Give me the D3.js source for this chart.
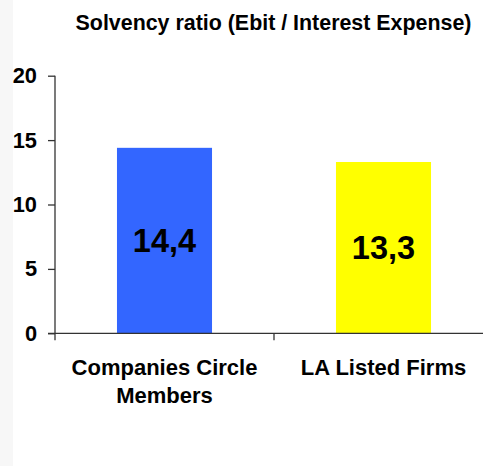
<!DOCTYPE html>
<html>
<head>
<meta charset="utf-8">
<script src="https://cdn.jsdelivr.net/npm/d3@7"></script>
<style>
  html, body { margin: 0; padding: 0; background: #ffffff; }
  svg { display: block; }
  text { font-family: "Liberation Sans", Arial, sans-serif; font-weight: bold; fill: #000; }
</style>
</head>
<body>
<script>
const titleText = "Solvency ratio (Ebit / Interest Expense)";
const categories = ["Companies Circle Members", "LA Listed Firms"];
const categoryLines = [["Companies Circle", "Members"], ["LA Listed Firms"]];
const values = [14.4, 13.3];
const valueLabels = ["14,4", "13,3"];
const barColors = ["#3366FF", "#FFFF00"];
const yTicks = [0, 5, 10, 15, 20];

const W = 483, H = 466;
const svg = d3.select("body").append("svg").attr("width", W).attr("height", H);

// left grey strip
svg.append("rect").attr("x", 0).attr("y", 0).attr("width", 13).attr("height", H).attr("fill", "#f7f7f7");

const x0 = 55, x1 = 493, yBottom = 333.3, yTop = 75.7;
const y = d3.scaleLinear().domain([0, 20]).range([yBottom, yTop]);
const x = d3.scaleBand().domain(categories).range([x0, x1]).paddingInner(0.566).paddingOuter(0.283);

// title
svg.append("text").attr("x", 273.5).attr("y", 29.5).attr("text-anchor", "middle")
  .style("font-size", "21.4px").text(titleText);

// bars
svg.selectAll("rect.bar").data(values).enter().append("rect")
  .attr("class", "bar")
  .attr("x", (d, i) => x(categories[i]))
  .attr("y", d => y(d))
  .attr("width", x.bandwidth())
  .attr("height", d => y(0) - y(d))
  .attr("fill", (d, i) => barColors[i]);

// value labels
svg.selectAll("text.val").data(values).enter().append("text")
  .attr("class", "val")
  .attr("x", (d, i) => x(categories[i]) + x.bandwidth() / 2)
  .attr("y", d => (y(d) + y(0)) / 2)
  .attr("dy", "0.36em")
  .attr("text-anchor", "middle")
  .style("font-size", "32.5px")
  .text((d, i) => valueLabels[i]);

// y axis
const axisColor = "#333";
const yAxis = d3.axisLeft(y).tickValues(yTicks).tickSize(7).tickPadding(11).tickFormat(d3.format("d"));
const gy = svg.append("g").attr("transform", `translate(${x0},0)`).call(yAxis);
gy.select(".domain").attr("stroke", axisColor).attr("stroke-width", 1.3).attr("d", `M0,${yTop}V${yBottom}`);
gy.selectAll(".tick line").attr("stroke", axisColor).attr("stroke-width", 1.3);
gy.selectAll(".tick text").style("font-size", "21.8px").style("font-family", "'Liberation Sans', Arial, sans-serif").style("font-weight", "bold").attr("fill", "#000");

// x axis
const gx = svg.append("g");
gx.append("line").attr("x1", x0 - 7).attr("x2", W).attr("y1", yBottom).attr("y2", yBottom)
  .attr("stroke", axisColor).attr("stroke-width", 1.3);
const boundaries = [x0].concat(categories.slice(1).map(c => x(c) - x.step() * x.paddingInner() / 2));
gx.selectAll("line.xt").data(boundaries).enter().append("line")
  .attr("class", "xt")
  .attr("x1", d => d).attr("x2", d => d)
  .attr("y1", yBottom).attr("y2", yBottom + 7)
  .attr("stroke", axisColor).attr("stroke-width", 1.3);

// category labels
categories.forEach((c, i) => {
  const t = svg.append("text").attr("text-anchor", "middle")
    .attr("x", x(c) + x.bandwidth() / 2).attr("y", 375)
    .style("font-size", "22px");
  categoryLines[i].forEach((ln, j) => {
    t.append("tspan").attr("x", x(c) + x.bandwidth() / 2).attr("y", 375 + j * 28).text(ln);
  });
});
</script>
</body>
</html>
